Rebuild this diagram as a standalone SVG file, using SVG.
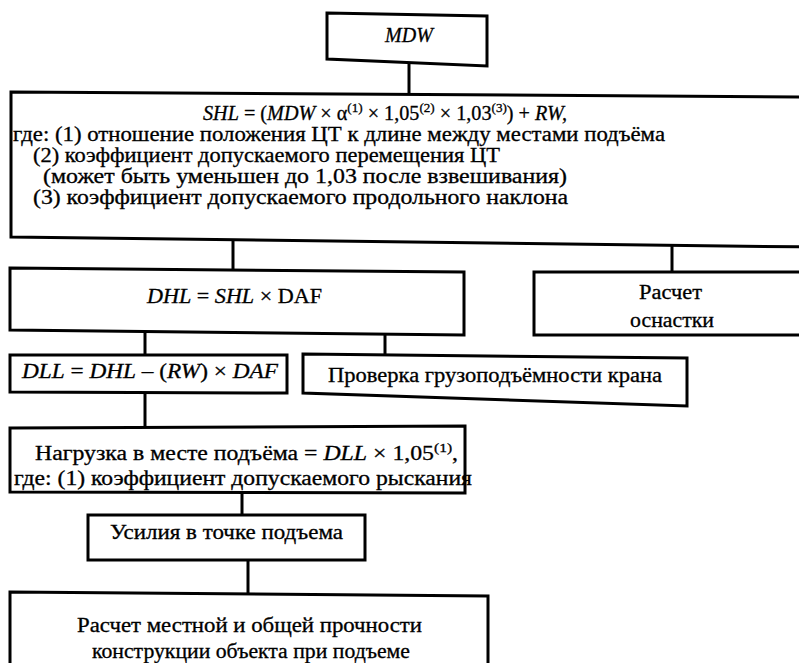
<svg xmlns="http://www.w3.org/2000/svg" width="799" height="663" viewBox="0 0 799 663">
<style>
  .box { fill: #fff; stroke: #000; stroke-width: 3; stroke-linejoin: miter; }
  .conn { stroke: #000; stroke-width: 3; fill: none; }
  text { font-family: "Liberation Serif", "Times New Roman", serif; font-size: 20px; fill: #000; stroke: #000; stroke-width: 0.3; }
  .c { text-anchor: middle; }
  .i { font-style: italic; }
  .sup { font-size: 13px; }
</style>
<rect x="0" y="0" width="799" height="663" fill="#fff"/>
<g id="connectors">
  <line class="conn" x1="409" y1="62" x2="409" y2="94"/>
  <line class="conn" x1="233" y1="238" x2="233" y2="270"/>
  <line class="conn" x1="672" y1="245" x2="672" y2="273"/>
  <line class="conn" x1="145" y1="332" x2="145" y2="356"/>
  <line class="conn" x1="385" y1="333" x2="385" y2="356"/>
  <line class="conn" x1="145" y1="392" x2="145" y2="428"/>
  <line class="conn" x1="242" y1="492" x2="242" y2="516"/>
  <line class="conn" x1="248" y1="560" x2="248" y2="595"/>
</g>
<g id="node-mdw">
  <polygon class="box" points="327,13 487,16 487,66 327,59"/>
  <text class="c i" x="409" y="42">MDW</text>
</g>
<g id="node-shl">
  <polygon class="box" points="11,92 812,97 812,247 11,237"/>
  <text x="203" y="120" textLength="364" lengthAdjust="spacingAndGlyphs"><tspan class="i">SHL</tspan> = (<tspan class="i">MDW</tspan> × α<tspan class="sup" dy="-8">(1)</tspan><tspan dy="8"> × 1,05</tspan><tspan class="sup" dy="-8">(2)</tspan><tspan dy="8"> × 1,03</tspan><tspan class="sup" dy="-8">(3)</tspan><tspan dy="8">) + </tspan><tspan class="i">RW,</tspan></text>
  <text x="13" y="141" textLength="652" lengthAdjust="spacingAndGlyphs">где: (1) отношение положения ЦТ к длине между местами подъёма</text>
  <text x="33" y="162" textLength="467" lengthAdjust="spacingAndGlyphs">(2) коэффициент допускаемого перемещения ЦТ</text>
  <text x="43" y="183" textLength="524" lengthAdjust="spacingAndGlyphs">(может быть уменьшен до 1,03 после взвешивания)</text>
  <text x="33" y="204" textLength="535" lengthAdjust="spacingAndGlyphs">(3) коэффициент допускаемого продольного наклона</text>
</g>
<g id="node-dhl">
  <polygon class="box" points="10,268 464,272 464,335 10,330"/>
  <text x="147" y="303" textLength="175" lengthAdjust="spacingAndGlyphs"><tspan class="i">DHL</tspan> = <tspan class="i">SHL</tspan> × DAF</text>
</g>
<g id="node-rig">
  <polygon class="box" points="534,272 812,272 812,335 534,335"/>
  <text x="639" y="299" textLength="63" lengthAdjust="spacingAndGlyphs">Расчет</text>
  <text x="630" y="327" textLength="84" lengthAdjust="spacingAndGlyphs">оснастки</text>
</g>
<g id="node-dll">
  <polygon class="box" points="10,355 287,355 287,393 10,392"/>
  <text x="22" y="378" textLength="256" lengthAdjust="spacingAndGlyphs"><tspan class="i">DLL</tspan> = <tspan class="i">DHL</tspan> – (<tspan class="i">RW</tspan>) × <tspan class="i">DAF</tspan></text>
</g>
<g id="node-crane">
  <polygon class="box" points="303,354 687,358 687,406 303,393"/>
  <text x="328" y="382" textLength="334" lengthAdjust="spacingAndGlyphs">Проверка грузоподъёмности крана</text>
</g>
<g id="node-load">
  <polygon class="box" points="10,428 465,426 465,493 10,492"/>
  <text x="35" y="460" textLength="423" lengthAdjust="spacingAndGlyphs">Нагрузка в месте подъёма = <tspan class="i">DLL</tspan> × 1,05<tspan class="sup" dy="-8">(1)</tspan><tspan dy="8">,</tspan></text>
  <text x="14" y="485" textLength="458" lengthAdjust="spacingAndGlyphs">где: (1) коэффициент допускаемого рыскания</text>
</g>
<g id="node-forces">
  <polygon class="box" points="88,515 365,515 365,560 88,560"/>
  <text x="110" y="539" textLength="233" lengthAdjust="spacingAndGlyphs">Усилия в точке подъема</text>
</g>
<g id="node-strength">
  <polygon class="box" points="10,592 488,596 488,680 10,680"/>
  <text x="77" y="632" textLength="345" lengthAdjust="spacingAndGlyphs">Расчет местной и общей прочности</text>
  <text x="92" y="658" textLength="318" lengthAdjust="spacingAndGlyphs">конструкции объекта при подъеме</text>
</g>
</svg>
